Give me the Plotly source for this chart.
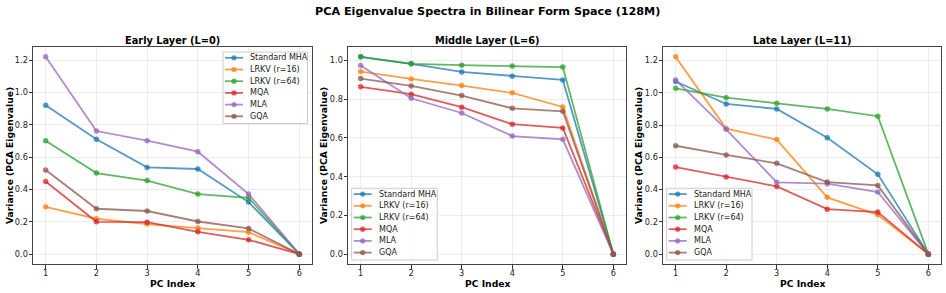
import plotly.graph_objects as go

pc_index = [1, 2, 3, 4, 5, 6]
series_names = ["Standard MHA", "LRKV (r=16)", "LRKV (r=64)", "MQA", "MLA", "GQA"]
colors = ["rgba(31,119,180,0.75)", "rgba(255,127,14,0.75)", "rgba(44,160,44,0.75)",
          "rgba(214,39,40,0.75)", "rgba(148,103,189,0.75)", "rgba(140,86,75,0.75)"]

panel_titles = ["Early Layer (L=0)", "Middle Layer (L=6)", "Late Layer (L=11)"]

early = {
    "Standard MHA": [0.921, 0.711, 0.537, 0.527, 0.322, 0.0],
    "LRKV (r=16)": [0.293, 0.219, 0.186, 0.161, 0.136, 0.0],
    "LRKV (r=64)": [0.702, 0.502, 0.455, 0.372, 0.349, 0.0],
    "MQA": [0.450, 0.200, 0.198, 0.138, 0.089, 0.0],
    "MLA": [1.221, 0.762, 0.702, 0.634, 0.372, 0.0],
    "GQA": [0.521, 0.281, 0.267, 0.202, 0.159, 0.0],
}
middle = {
    "Standard MHA": [1.019, 0.983, 0.941, 0.919, 0.900, 0.0],
    "LRKV (r=16)": [0.943, 0.905, 0.871, 0.833, 0.760, 0.0],
    "LRKV (r=64)": [1.019, 0.983, 0.976, 0.972, 0.966, 0.0],
    "MQA": [0.864, 0.826, 0.759, 0.671, 0.652, 0.0],
    "MLA": [0.974, 0.805, 0.729, 0.610, 0.593, 0.0],
    "GQA": [0.907, 0.869, 0.819, 0.753, 0.738, 0.0],
}
late = {
    "Standard MHA": [1.070, 0.931, 0.900, 0.722, 0.495, 0.0],
    "LRKV (r=16)": [1.223, 0.778, 0.710, 0.352, 0.244, 0.0],
    "LRKV (r=64)": [1.028, 0.970, 0.935, 0.900, 0.855, 0.0],
    "MQA": [0.540, 0.478, 0.420, 0.279, 0.261, 0.0],
    "MLA": [1.080, 0.774, 0.445, 0.437, 0.385, 0.0],
    "GQA": [0.672, 0.615, 0.563, 0.447, 0.426, 0.0],
}
panels = [early, middle, late]

W, H = 946, 293
ml, mr, mt, mb = 33, 5, 47, 29
pw = W - ml - mr
ph = H - mt - mb
px_dom = [(33, 312), (348, 626), (663, 941)]
domains = [[(a - ml) / pw, (b - ml) / pw] for a, b in px_dom]


def fx(px):
    return (px - ml) / pw


def fy(py):
    return (H - mb - py) / ph


font = "DejaVu Sans"
fig = go.Figure()

for i, data in enumerate(panels):
    ax = "" if i == 0 else str(i + 1)
    for name, col in zip(series_names, colors):
        fig.add_trace(go.Scatter(
            x=pc_index, y=data[name], name=name, mode="lines+markers",
            line=dict(color=col, width=1.8),
            marker=dict(color=col, size=5.5, symbol="circle"),
            xaxis="x" + ax, yaxis="y" + ax, showlegend=False,
        ))

layout = dict(
    width=W, height=H,
    margin=dict(l=ml, r=mr, t=mt, b=mb),
    paper_bgcolor="white", plot_bgcolor="white",
    font=dict(family=font, size=8.2, color="#222"),
    showlegend=False,
)

yranges = []
for data in panels:
    mx = max(max(v) for v in data.values())
    mn = 0.0
    pad = (mx - mn) * 0.05
    yranges.append([mn - pad, mx + pad])

ytickvals = [
    [0, 0.2, 0.4, 0.6, 0.8, 1.0, 1.2],
    [0, 0.2, 0.4, 0.6, 0.8, 1.0],
    [0, 0.2, 0.4, 0.6, 0.8, 1.0, 1.2],
]

annotations = [dict(text="<b>PCA Eigenvalue Spectra in Bilinear Form Space (128M)</b>",
                    x=0.5, y=fy(12), xref="paper", yref="paper", xanchor="center", yanchor="middle",
                    showarrow=False, font=dict(size=11.2, family=font, color="black"))]
shapes = []
ytitle_x = [9, 323, 638]
for i in range(3):
    ax = "" if i == 0 else str(i + 1)
    layout["xaxis" + ax] = dict(
        domain=domains[i], range=[0.75, 6.25], anchor="y" + ax,
        tickvals=pc_index, ticks="outside", ticklen=3.5, tickcolor="#333",
        showline=True, mirror=True, linecolor="#444", linewidth=1,
        showgrid=True, gridcolor="rgba(0,0,0,0.07)", gridwidth=1, zeroline=False,
        tickfont=dict(size=8.2, family=font, color="#222"), ticklabelstandoff=-2,
    )
    layout["yaxis" + ax] = dict(
        domain=[0, 1], range=yranges[i], anchor="x" + ax,
        tickvals=ytickvals[i], tickformat=".1f", ticks="outside", ticklen=3.5, tickcolor="#333",
        showline=True, mirror=True, linecolor="#444", linewidth=1,
        showgrid=True, gridcolor="rgba(0,0,0,0.07)", gridwidth=1, zeroline=False,
        tickfont=dict(size=8.2, family=font, color="#222"), ticklabelstandoff=-1,
    )
    xc = (domains[i][0] + domains[i][1]) / 2
    annotations.append(dict(text="<b>" + panel_titles[i] + "</b>", x=xc, y=fy(40),
                            xref="paper", yref="paper", xanchor="center", yanchor="middle",
                            showarrow=False, font=dict(size=9.8, family=font, color="black")))
    annotations.append(dict(text="<b>PC Index</b>", x=xc, y=fy(283.5),
                            xref="paper", yref="paper", xanchor="center", yanchor="middle",
                            showarrow=False, font=dict(size=9.2, family=font, color="black")))
    annotations.append(dict(text="<b>Variance (PCA Eigenvalue)</b>", x=fx(ytitle_x[i]), y=fy(156),
                            xref="paper", yref="paper", xanchor="center", yanchor="middle",
                            textangle=-90, showarrow=False,
                            font=dict(size=9.2, family=font, color="black")))

# custom compact legends (matplotlib-style)
legend_boxes = [
    (223, 52, 307.5, 123.5),
    (351.7, 188.3, 437.3, 260),
    (666.7, 188.3, 752, 260),
]
for (x0, y0, x1, y1) in legend_boxes:
    shapes.append(dict(type="rect", xref="paper", yref="paper",
                       x0=fx(x0), x1=fx(x1), y0=fy(y0), y1=fy(y1),
                       line=dict(color="#cccccc", width=1), fillcolor="rgba(255,255,255,0.8)",
                       layer="above"))
    for k, (name, col) in enumerate(zip(series_names, colors)):
        yy = y0 + 5.8 + 11.7 * k
        lx0, lx1 = x0 + 2, x0 + 20
        shapes.append(dict(type="line", xref="paper", yref="paper",
                           x0=fx(lx0), x1=fx(lx1), y0=fy(yy), y1=fy(yy),
                           line=dict(color=col, width=1.8), layer="above"))
        cx = (lx0 + lx1) / 2
        shapes.append(dict(type="circle", xref="paper", yref="paper",
                           x0=fx(cx - 2.6), x1=fx(cx + 2.6), y0=fy(yy + 2.6), y1=fy(yy - 2.6),
                           line=dict(width=0), fillcolor=col, layer="above"))
        annotations.append(dict(text=name, x=fx(x0 + 25), y=fy(yy), xref="paper", yref="paper",
                                xanchor="left", yanchor="middle", showarrow=False,
                                font=dict(size=8, family=font, color="#222")))

layout["annotations"] = annotations
layout["shapes"] = shapes

fig.update_layout(**layout)
fig.write_html("out.html", config={"displayModeBar": False},
               post_script="document.body.style.margin='0';document.body.style.overflow='hidden';")
